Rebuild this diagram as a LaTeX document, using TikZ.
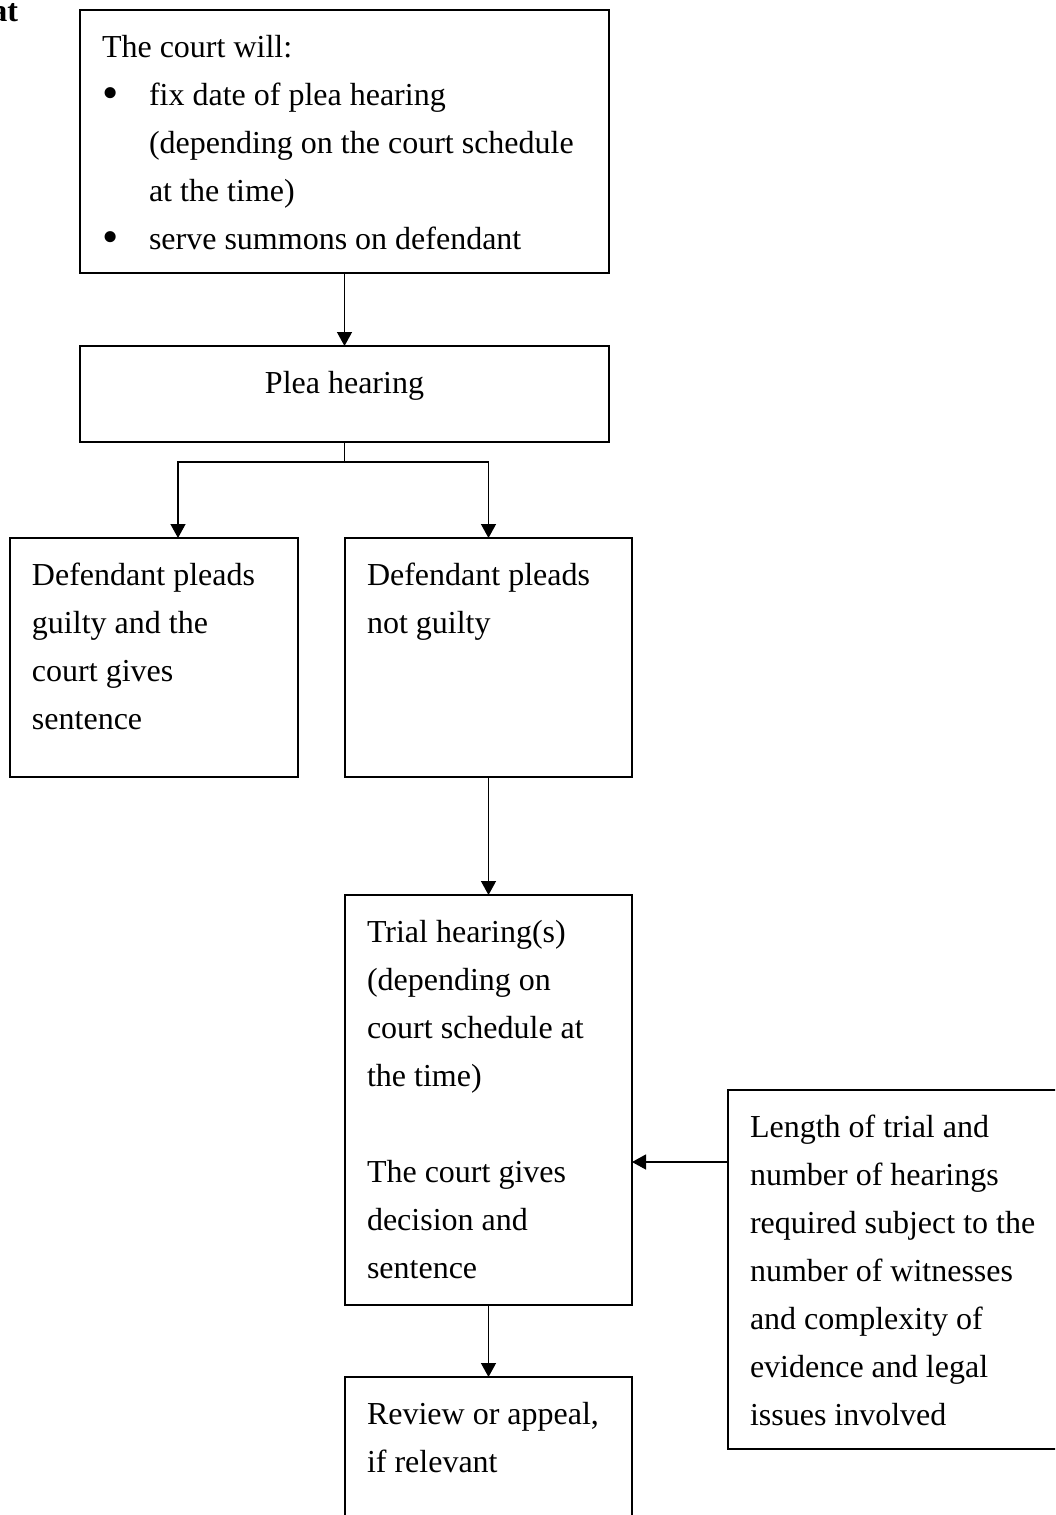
\documentclass[tikz,border=0pt]{standalone}
\usepackage{fontspec}
\setmainfont{Liberation Serif}
\usetikzlibrary{arrows.meta,positioning}
\newcommand{\flowtext}[3]{\parbox[c][#2][t]{#1}{\rule{0pt}{18.8pt}#3}}
\newcommand{\bulletitem}{\makebox[23.5pt][l]{\raisebox{-1.4pt}{\scalebox{1.45}{\textbullet}}}}

\begin{document}
\begin{tikzpicture}[x=0.5pt,y=-0.5pt,
  box/.style={draw,line width=0.7pt,anchor=north west,inner xsep=11pt,inner ysep=5pt,outer sep=0pt,font=\fontsize{16}{24}\selectfont},
  flow/.style={-{Triangle[width=7.5pt,length=7pt]},line width=0.65pt}]
  \useasboundingbox (0,0) rectangle (1055,1515);
  \clip (0,0) rectangle (1055,1515);
  \node[anchor=base east,inner sep=0pt,font=\fontsize{16}{24}\selectfont\bfseries] (heading) at (18.5,21) {at};
  \node[box] (court) at (80,10) {\flowtext{242.5pt}{121.5pt}{The court will:\\
    \bulletitem fix date of plea hearing\\
    \hspace*{23.5pt}(depending on the court schedule\\
    \hspace*{23.5pt}at the time)\\
    \bulletitem serve summons on defendant}};
  \node[box] (plea) at (80,346) {\flowtext{242.5pt}{38pt}{\centering Plea hearing}};
  \node[box] (guilty) at (10,538) {\flowtext{122pt}{109.5pt}{Defendant pleads\\guilty and the\\court gives\\sentence}};
  \node[box] (notguilty) at (345,538) {\flowtext{121.5pt}{109.5pt}{Defendant pleads\\not guilty}};
  \node[box] (trial) at (345,895) {\flowtext{121.5pt}{195pt}{Trial hearing(s)\\(depending on\\court schedule at\\the time)\\[24pt]The court gives\\decision and\\sentence}};
  \node[box] (length) at (728,1090) {\flowtext{150pt}{169.5pt}{Length of trial and\\number of hearings\\required subject to the\\number of witnesses\\and complexity of\\evidence and legal\\issues involved}};
  \node[box] (review) at (345,1377) {\flowtext{121.5pt}{71.5pt}{Review or appeal,\\if relevant}};

  \draw[flow] (court) -- (plea);
  \draw[line width=0.65pt] (plea.south) -- ++(0,20) coordinate (split);
  \draw[flow] (split) -| ([xshift=84pt]guilty.north west);
  \draw[flow] (split) -| (notguilty.north);
  \draw[flow] (notguilty) -- (trial);
  \coordinate (lenpoint) at ([yshift=-36pt]length.north west);
  \draw[flow] (lenpoint) -- (lenpoint -| trial.east);
  \draw[flow] (trial) -- (review);
\end{tikzpicture}
\end{document}
